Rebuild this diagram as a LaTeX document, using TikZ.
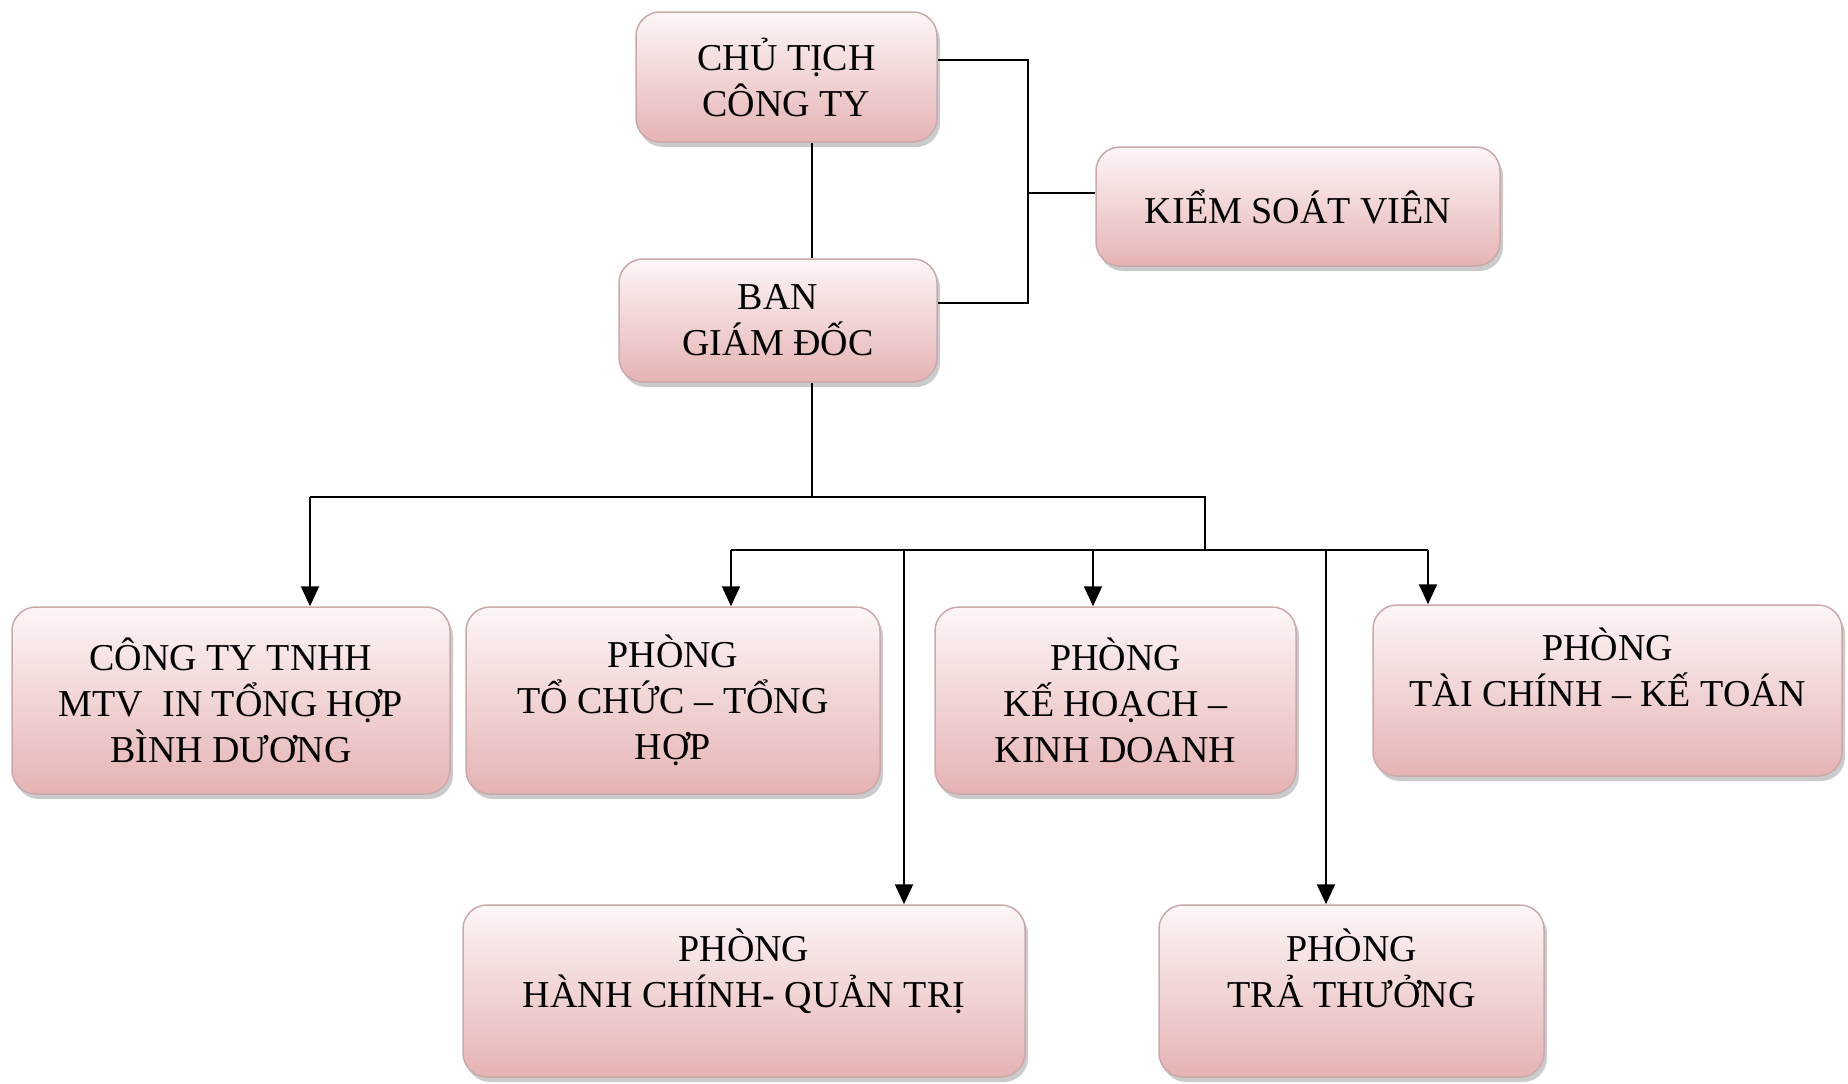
\documentclass[tikz,border=0pt]{standalone}
\usepackage{fontspec}
\setmainfont{Liberation Serif}
\usetikzlibrary{arrows.meta,shadows}

\definecolor{hongnhat}{HTML}{FDF6F6}
\definecolor{hongdam}{HTML}{E6B3B4}
\definecolor{vienhop}{HTML}{C9A9AA}

\tikzset{
  hop/.style={rectangle, rounded corners=24pt, draw=vienhop, line width=1.5pt,
    top color=hongnhat, bottom color=hongdam, align=center,
    font=\fontsize{38}{46}\selectfont, inner sep=0pt,
    drop shadow={shadow xshift=3pt, shadow yshift=-5pt, fill=black!45, opacity=0.45}},
  noi/.style={line width=2pt, black},
  mui/.style={noi, -{Triangle[width=18pt,length=20pt]}}
}

\begin{document}
\begin{tikzpicture}[x=1pt, y=-1pt] %Sơ đồ tổ chức, tọa độ tính theo điểm ảnh
    \useasboundingbox (0,0) rectangle (1848,1084);
        %Các khối
    \node[hop, minimum width=301pt, minimum height=130pt] (chutich) at (786.5,77) {CHỦ TỊCH\\CÔNG TY};
    \node[hop, minimum width=318pt, minimum height=123pt] (bangd) at (778,320.5) {BAN\\GIÁM ĐỐC};
    \node[hop, minimum width=404pt, minimum height=119pt] (kiemsoat) at (1298,206.5) {KIỂM SOÁT VIÊN};
    \node[hop, minimum width=438pt, minimum height=187pt] (congty) at (231,700.5) {CÔNG TY TNHH\\MTV~ IN TỔNG HỢP\\BÌNH DƯƠNG};
    \node[hop, minimum width=414pt, minimum height=187pt] (tochuc) at (673,700.5) {PHÒNG\\TỔ CHỨC -- TỔNG\\HỢP};
    \node[hop, minimum width=361pt, minimum height=187pt] (kehoach) at (1115.5,700.5) {PHÒNG\\KẾ HOẠCH --\\KINH DOANH};
    \node[hop, minimum width=469pt, minimum height=171pt] (taichinh) at (1607.5,690.5) {PHÒNG\\TÀI CHÍNH -- KẾ TOÁN\\~};
    \node[hop, minimum width=562pt, minimum height=172pt] (hanhchinh) at (744,991) {PHÒNG\\HÀNH CHÍNH- QUẢN TRỊ\\~};
    \node[hop, minimum width=385pt, minimum height=172pt] (trathuong) at (1351.5,991) {PHÒNG\\TRẢ THƯỞNG\\~};
        %Điểm rẽ nhánh
    \coordinate (ra) at (1028,60);
    \coordinate (rb) at (1028,303);
    \coordinate (rm) at (1028,193);
    \coordinate (t0) at (812,497);
    \coordinate (t1) at (310,497);
    \coordinate (t2) at (1205,497);
    \coordinate (t3) at (1205,550);
    \coordinate (n1) at (731,550);
    \coordinate (n2) at (904,550);
    \coordinate (n3) at (1093,550);
    \coordinate (n4) at (1326,550);
    \coordinate (n5) at (1428,550);
        %Đường nối
    \draw[noi] (chutich.south -| t0) -- (bangd.north -| t0); %Chủ tịch - Ban giám đốc
    \draw[noi] (chutich.east |- ra) -- (ra) -- (rb) -- (bangd.east |- rb); %Nhánh phải
    \draw[noi] (rm) -- (kiemsoat.west |- rm); %Kiểm soát viên
    \draw[noi] (bangd.south -| t0) -- (t0); %Trục xuống
    \draw[noi] (t1) -- (t2) -- (t3);
    \draw[noi] (n1) -- (n5);
    \draw[mui] (t1) -- (congty.north -| t1);
    \draw[mui] (n1) -- (tochuc.north -| n1);
    \draw[mui] (n3) -- (kehoach.north -| n3);
    \draw[mui] (n5) -- (taichinh.north -| n5);
    \draw[mui] (n2) -- (hanhchinh.north -| n2);
    \draw[mui] (n4) -- (trathuong.north -| n4);
\end{tikzpicture}
\end{document}
